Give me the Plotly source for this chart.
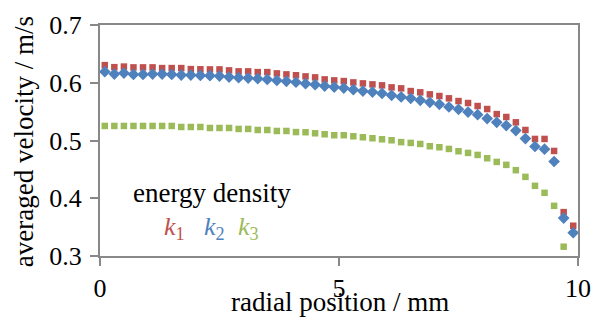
import plotly.graph_objects as go

radial_mm = [round(0.1 + 0.2 * i, 1) for i in range(50)]

k1_velocity = [0.6305, 0.627, 0.628, 0.6266, 0.6266, 0.6266, 0.6254, 0.6254, 0.6254, 0.6236,
               0.6233, 0.6231, 0.6231, 0.6214, 0.6197, 0.6197, 0.6184, 0.6184, 0.6162, 0.6145,
               0.6130, 0.611, 0.6093, 0.6058, 0.6041, 0.6029, 0.6006, 0.5989, 0.5972, 0.5955,
               0.592, 0.5903, 0.5856, 0.5834, 0.5799, 0.577, 0.573, 0.5683, 0.5649, 0.5597,
               0.5545, 0.5457, 0.5407, 0.5315, 0.5182, 0.5027, 0.5027, 0.4819, 0.376, 0.3524]

k2_velocity = [0.6191, 0.615, 0.6167, 0.6145, 0.6145, 0.615, 0.615, 0.6145, 0.6133, 0.6133,
               0.6127, 0.6122, 0.6115, 0.6098, 0.6088, 0.6081, 0.607, 0.6058, 0.6041, 0.6024,
               0.6009, 0.5984, 0.5967, 0.5943, 0.5925, 0.5908, 0.588, 0.5856, 0.5839, 0.5816,
               0.5782, 0.5755, 0.573, 0.5695, 0.5661, 0.5626, 0.558, 0.554, 0.5493, 0.5448,
               0.5379, 0.5315, 0.5258, 0.5172, 0.5034, 0.4896, 0.4849, 0.4636, 0.3657, 0.3403]

k3_velocity = [0.5252, 0.5252, 0.5252, 0.5252, 0.5252, 0.5252, 0.5252, 0.5252, 0.5234, 0.5234,
               0.5234, 0.5217, 0.5217, 0.5217, 0.52, 0.52, 0.5182, 0.5182, 0.5165, 0.5165,
               0.5146, 0.5143, 0.5125, 0.5108, 0.5091, 0.5091, 0.5073, 0.5056, 0.5039, 0.5021,
               0.5004, 0.4972, 0.4958, 0.494, 0.49, 0.4883, 0.4854, 0.4814, 0.4785, 0.475,
               0.4693, 0.4629, 0.4578, 0.4486, 0.437, 0.4215, 0.4094, 0.3869, 0.3161]

x_ticks = [0, 5, 10]
y_ticks = [0.3, 0.4, 0.5, 0.6, 0.7]

x_title = "radial position / mm"
y_title = "averaged velocity / m/s"
legend_title = "energy density"

RED = "#C0504D"
BLUE = "#4F81BD"
GREEN = "#9BBB59"
FONT = "Liberation Serif"

fig = go.Figure()
fig.add_trace(go.Scatter(x=radial_mm, y=k1_velocity, mode="markers",
                         marker=dict(symbol="square", size=6.5, color=RED), name="k1"))
fig.add_trace(go.Scatter(x=radial_mm, y=k2_velocity, mode="markers",
                         marker=dict(symbol="diamond", size=9, color=BLUE), name="k2"))
fig.add_trace(go.Scatter(x=radial_mm[:len(k3_velocity)], y=k3_velocity, mode="markers",
                         marker=dict(symbol="square", size=6.5, color=GREEN), name="k3"))

axis_common = dict(showgrid=False, zeroline=False, showline=True, linecolor="#888888",
                   linewidth=2, mirror=True, ticks="outside", ticklen=8, tickwidth=2,
                   tickcolor="#888888", automargin=False,
                   tickfont=dict(family=FONT, size=26, color="black"))

fig.update_xaxes(range=[0, 10], tickvals=x_ticks, ticktext=[str(t) for t in x_ticks],
                 **axis_common)
fig.update_yaxes(range=[0.3, 0.7], tickvals=y_ticks, ticktext=["%.1f" % t for t in y_ticks],
                 ticklabelstandoff=3, **axis_common)

annotations = [
    dict(xref="paper", yref="paper", x=0.502, y=-0.198, text=x_title, showarrow=False,
         xanchor="center", yanchor="middle", font=dict(family=FONT, size=27, color="black")),
    dict(xref="paper", yref="paper", x=-0.159, y=0.497, text=y_title, showarrow=False, textangle=-90,
         xanchor="center", yanchor="middle", font=dict(family=FONT, size=27, color="black")),
    dict(x=2.34, y=0.409, text=legend_title, showarrow=False, xanchor="center", yanchor="middle",
         font=dict(family=FONT, size=27, color="black")),
    dict(x=1.55, y=0.348, text="<i>k</i><sub>1</sub>", showarrow=False, xanchor="center", yanchor="middle",
         font=dict(family=FONT, size=26, color=RED)),
    dict(x=2.4, y=0.348, text="<i>k</i><sub>2</sub>", showarrow=False, xanchor="center", yanchor="middle",
         font=dict(family=FONT, size=26, color=BLUE)),
    dict(x=3.1, y=0.348, text="<i>k</i><sub>3</sub>", showarrow=False, xanchor="center", yanchor="middle",
         font=dict(family=FONT, size=26, color=GREEN)),
]

fig.update_layout(width=593, height=320, showlegend=False,
                  margin=dict(l=100, r=15, t=24.5, b=64),
                  plot_bgcolor="white", paper_bgcolor="white",
                  font=dict(family=FONT, color="black"),
                  annotations=annotations)

# remove the default page margin so the 593x320 figure fills the window exactly
fig.write_html("out.html", config={"displayModeBar": False},
               post_script="document.body.style.margin='0';document.body.style.overflow='hidden';")
